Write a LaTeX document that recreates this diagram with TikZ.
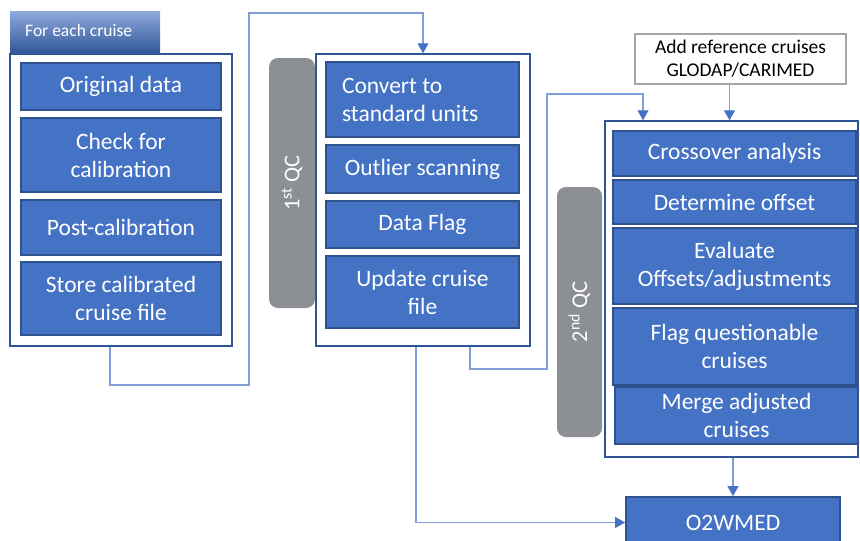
\documentclass[tikz,border=0pt]{standalone}
\usepackage{fontspec}
\setmainfont{Carlito}
\usetikzlibrary{arrows.meta}
\definecolor{bfill}{HTML}{4472C4}
\definecolor{bdraw}{HTML}{2F528F}
\definecolor{cdraw}{HTML}{2F5597}
\definecolor{lconn}{HTML}{7F9FDA}
\definecolor{qgrey}{HTML}{8C8F93}
\definecolor{tabtop}{HTML}{8FAADC}
\definecolor{tabbot}{HTML}{2F5597}
\definecolor{refgrey}{HTML}{A6A6A6}
\tikzset{
 bx/.style={draw=bdraw, fill=bfill, line width=1.8pt, text=white, font=\fontsize{23.5}{28}\selectfont, align=center, inner sep=0pt},
 cont/.style={draw=cdraw, fill=white, line width=1.5pt, inner sep=0pt},
 qcbar/.style={fill=qgrey, rounded corners=9pt, inner sep=0pt},
 qclab/.style={text=white, font=\fontsize{22.5}{26}\selectfont, rotate=90, inner sep=0pt},
 conn/.style={draw=lconn, line width=1.1pt},
 arr/.style={-{Triangle[width=11pt,length=10pt,color=bfill]}}
}
\begin{document}
\begin{tikzpicture}[x=1pt,y=-1pt]
\useasboundingbox (0,0) rectangle (860,541);
% left group
\node[cont, minimum width=222pt, minimum height=292pt] (lc) at (121,200) {};
\node[top color=tabtop, bottom color=tabbot, minimum width=150pt, minimum height=43pt, inner sep=0pt] (tab) at (85,32.5) {};
\node[text=white, font=\fontsize{17.5}{20}\selectfont, anchor=west, inner sep=0pt] (tabt) at (25,30) {For each cruise};
\node[bx, minimum width=200pt, minimum height=47pt] (od) at (121,86.5) {Original data};
\node[bx, minimum width=200pt, minimum height=74pt] (cc) at (121,155) {Check for\\calibration};
\node[bx, minimum width=200pt, minimum height=55pt] (pc) at (121,227.5) {Post-calibration};
\node[bx, minimum width=200pt, minimum height=73pt] (sc) at (121,298.5) {Store calibrated\\cruise file};
% middle group
\node[qcbar, minimum width=46pt, minimum height=250pt] (q1) at (292,183) {};
\node[qclab] (q1t) at (q1.center) {1\textsuperscript{st} QC};
\node[cont, minimum width=214pt, minimum height=292pt] (mc) at (423,200) {};
\node[bx, minimum width=193pt, minimum height=75pt, text width=161pt, align=flush left] (cv) at (422.5,99.5) {Convert to\\standard units};
\node[bx, minimum width=193pt, minimum height=48pt] (os) at (422.5,169) {Outlier scanning};
\node[bx, minimum width=193pt, minimum height=47pt] (df) at (422.5,224.5) {Data Flag};
\node[bx, minimum width=193pt, minimum height=72pt] (uc) at (422.5,292) {Update cruise\\file};
% right group
\node[draw=refgrey, line width=2pt, fill=white, minimum width=211pt, minimum height=50pt, font=\fontsize{19.5}{23}\selectfont, align=center, inner sep=0pt] (ref) at (740.5,59) {Add reference cruises\\GLODAP/CARIMED};
\node[qcbar, minimum width=45pt, minimum height=250pt] (q2) at (579.5,312) {};
\node[qclab] (q2t) at (q2.center) {2\textsuperscript{nd} QC};
\node[cont, minimum width=253pt, minimum height=336pt] (rc) at (731.5,289) {};
\node[bx, minimum width=243pt, minimum height=45pt] (co) at (734.5,153.5) {Crossover analysis};
\node[bx, minimum width=243pt, minimum height=44pt] (do) at (734.5,202) {Determine offset};
\node[bx, minimum width=243pt, minimum height=76pt] (ev) at (734.5,266) {Evaluate\\Offsets/adjustments};
\node[bx, minimum width=243pt, minimum height=77pt] (fq) at (734.5,346.5) {Flag questionable\\cruises};
\node[bx, minimum width=243pt, minimum height=57pt] (ma) at (736.5,415.5) {Merge adjusted\\cruises};
\node[bx, minimum width=214pt, minimum height=51pt] (o2) at (733,522.5) {O2WMED};
% connectors
\coordinate (k1) at (249,385);
\coordinate (k2) at (249,13);
\draw[conn, arr] ([xshift=-11pt]lc.south) |- (k1) -- (k2) -| (mc.north);
\coordinate (k3) at (547,369);
\coordinate (k4) at (547,94);
\draw[conn, arr] ([xshift=47pt]mc.south) |- (k3) -- (k4) -| ([xshift=-88.5pt]rc.north);
\draw[conn, arr] ([xshift=-11pt]ref.south) -- ([xshift=-11pt]ref.south |- rc.north);
\draw[conn, arr] (rc.south -| o2.north) -- (o2.north);
\draw[conn, arr] ([xshift=-7pt]mc.south) |- (o2.west);
\end{tikzpicture}
\end{document}
